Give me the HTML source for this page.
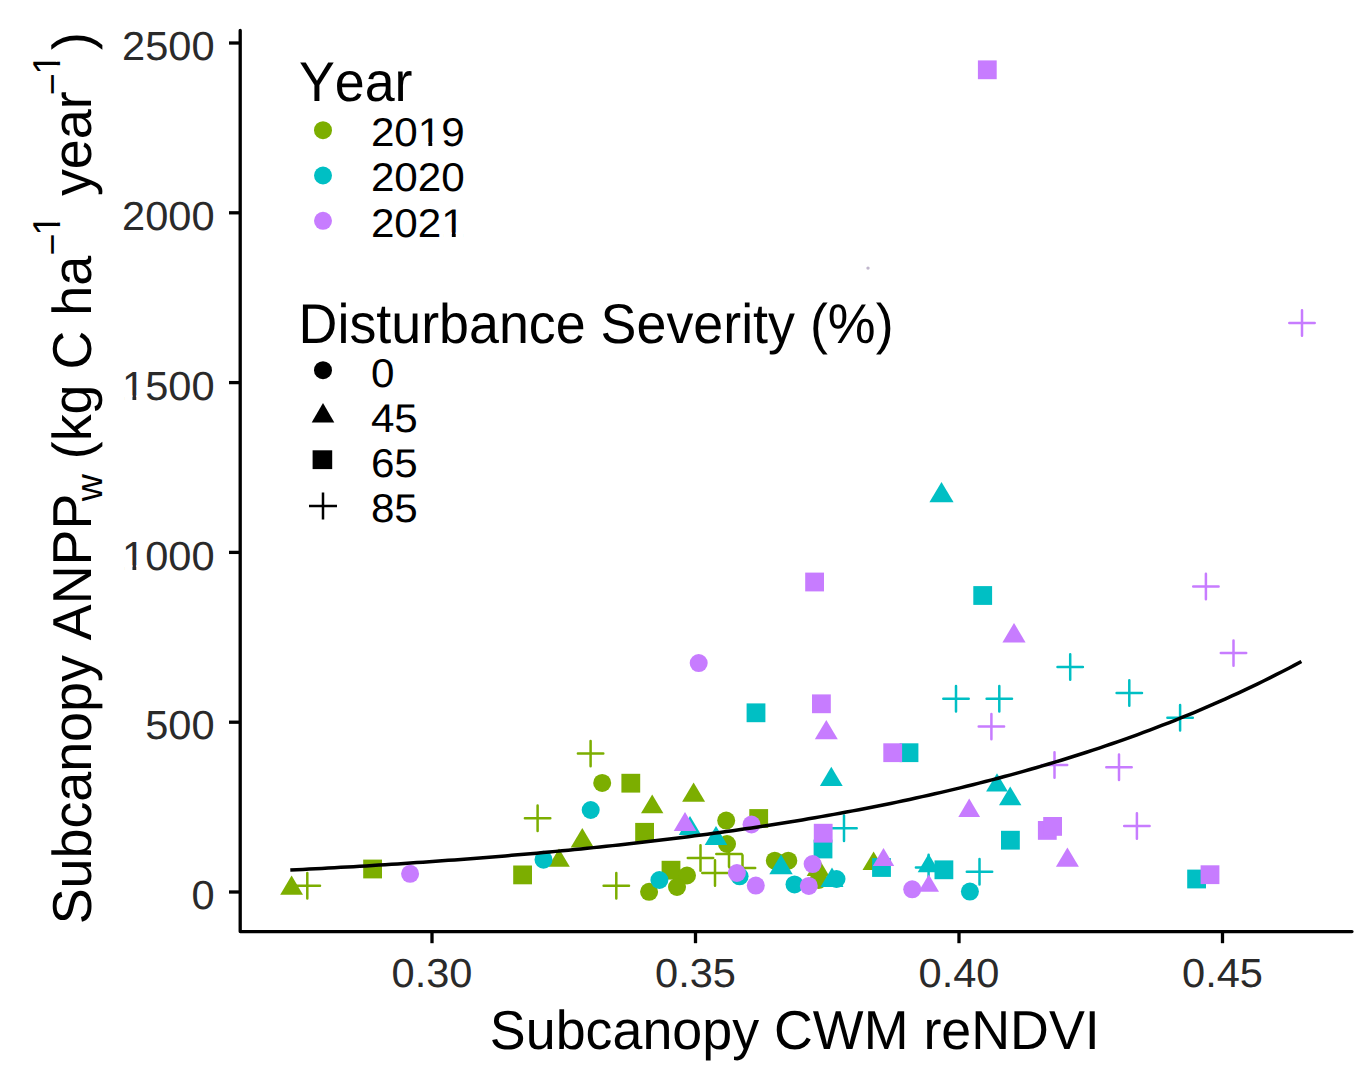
<!DOCTYPE html>
<html><head><meta charset="utf-8"><style>
html,body{margin:0;padding:0;background:#fff;}
svg{display:block;}
text{font-family:"Liberation Sans",sans-serif;font-kerning:none;font-feature-settings:"kern" 0;text-rendering:geometricPrecision;}
.tk{font-size:41.6px;fill:#2a2a2a;}
.lt{font-size:53.8px;fill:#000;}
.ll{font-size:42.2px;fill:#000;}
.at{font-size:53.8px;fill:#000;}
.sub{font-size:37.7px;fill:#000;}
</style></head><body>
<svg width="1360" height="1090" viewBox="0 0 1360 1090">
<rect width="1360" height="1090" fill="#fff"/>
<path d="M240.2 30.5V931.6H1352" fill="none" stroke="#000" stroke-width="3.3" stroke-linejoin="round" stroke-linecap="round"/><path d="M229 892H240" stroke="#000" stroke-width="3.3"/><text transform="translate(214.60,909.10) scale(1,0.975)" text-anchor="end" style="font-size:41.6px" fill="#2a2a2a">0</text><path d="M229 722.2H240" stroke="#000" stroke-width="3.3"/><text transform="translate(214.60,739.30) scale(1,0.975)" text-anchor="end" style="font-size:41.6px" fill="#2a2a2a">500</text><path d="M229 552.4H240" stroke="#000" stroke-width="3.3"/><text transform="translate(214.60,569.50) scale(1,0.975)" text-anchor="end" style="font-size:41.6px" fill="#2a2a2a">1000</text><g transform="translate(214.60,569.50) scale(1,0.975)" fill="#fff"><rect x="-90.31" y="-4.47" width="8.17" height="5.89"/><rect x="-78.35" y="-4.47" width="7.84" height="5.89"/></g><path d="M229 382.6H240" stroke="#000" stroke-width="3.3"/><text transform="translate(214.60,399.70) scale(1,0.975)" text-anchor="end" style="font-size:41.6px" fill="#2a2a2a">1500</text><g transform="translate(214.60,399.70) scale(1,0.975)" fill="#fff"><rect x="-90.31" y="-4.47" width="8.17" height="5.89"/><rect x="-78.35" y="-4.47" width="7.84" height="5.89"/></g><path d="M229 212.8H240" stroke="#000" stroke-width="3.3"/><text transform="translate(214.60,229.90) scale(1,0.975)" text-anchor="end" style="font-size:41.6px" fill="#2a2a2a">2000</text><path d="M229 43H240" stroke="#000" stroke-width="3.3"/><text transform="translate(214.60,60.10) scale(1,0.975)" text-anchor="end" style="font-size:41.6px" fill="#2a2a2a">2500</text><path d="M432 931.6V943.2" stroke="#000" stroke-width="3.3"/><text transform="translate(432.00,987.30) scale(1,0.975)" text-anchor="middle" style="font-size:41.6px" fill="#2a2a2a">0.30</text><path d="M695.5 931.6V943.2" stroke="#000" stroke-width="3.3"/><text transform="translate(695.50,987.30) scale(1,0.975)" text-anchor="middle" style="font-size:41.6px" fill="#2a2a2a">0.35</text><path d="M959 931.6V943.2" stroke="#000" stroke-width="3.3"/><text transform="translate(959.00,987.30) scale(1,0.975)" text-anchor="middle" style="font-size:41.6px" fill="#2a2a2a">0.40</text><path d="M1222.5 931.6V943.2" stroke="#000" stroke-width="3.3"/><text transform="translate(1222.50,987.30) scale(1,0.975)" text-anchor="middle" style="font-size:41.6px" fill="#2a2a2a">0.45</text>
<polygon points="291.6,875.6 303.0,894.7 280.2,894.7" fill="#7CAE00"/>
<path d="M294.6 885.7H320.0M307.3 873.0V898.4" stroke="#7CAE00" stroke-width="2.5" stroke-linecap="round" fill="none"/>
<rect x="363.2" y="859.6" width="18.8" height="18.8" fill="#7CAE00"/>
<rect x="513.2" y="865.5" width="18.8" height="18.8" fill="#7CAE00"/>
<polygon points="559.0,848.5 569.8,866.7 548.2,866.7" fill="#7CAE00"/>
<path d="M524.9 818.2H550.3M537.6 805.5V830.9" stroke="#7CAE00" stroke-width="2.5" stroke-linecap="round" fill="none"/>
<path d="M577.9 753.6H603.3M590.6 740.9V766.3" stroke="#7CAE00" stroke-width="2.5" stroke-linecap="round" fill="none"/>
<circle cx="602.2" cy="782.9" r="9.0" fill="#7CAE00"/>
<rect x="621.4" y="773.8" width="18.8" height="18.8" fill="#7CAE00"/>
<polygon points="652.2,794.4 663.4,813.2 641.0,813.2" fill="#7CAE00"/>
<polygon points="582.3,828.0 593.9,847.5 570.7,847.5" fill="#7CAE00"/>
<rect x="635.2" y="822.9" width="18.8" height="18.8" fill="#7CAE00"/>
<polygon points="693.6,782.4 705.1,801.7 682.1,801.7" fill="#7CAE00"/>
<path d="M603.6 885.7H629.0M616.3 873.0V898.4" stroke="#7CAE00" stroke-width="2.5" stroke-linecap="round" fill="none"/>
<circle cx="649.1" cy="891.8" r="9.0" fill="#7CAE00"/>
<rect x="661.6" y="860.8" width="18.8" height="18.8" fill="#7CAE00"/>
<circle cx="687.0" cy="875.5" r="9.0" fill="#7CAE00"/>
<circle cx="677.0" cy="887.0" r="9.0" fill="#7CAE00"/>
<circle cx="727.0" cy="844.0" r="9.0" fill="#7CAE00"/>
<circle cx="726.2" cy="820.6" r="9.0" fill="#7CAE00"/>
<path d="M687.8 858.0H713.2M700.5 845.3V870.7" stroke="#7CAE00" stroke-width="2.5" stroke-linecap="round" fill="none"/>
<path d="M702.3 873.0H727.7M715.0 860.3V885.7" stroke="#7CAE00" stroke-width="2.5" stroke-linecap="round" fill="none"/>
<path d="M716.3 854.0H741.7M729.0 841.3V866.7" stroke="#7CAE00" stroke-width="2.5" stroke-linecap="round" fill="none"/>
<path d="M729.8 868.0H755.2M742.5 855.3V880.7" stroke="#7CAE00" stroke-width="2.5" stroke-linecap="round" fill="none"/>
<rect x="749.3" y="809.1" width="18.8" height="18.8" fill="#7CAE00"/>
<circle cx="774.8" cy="860.7" r="9.0" fill="#7CAE00"/>
<circle cx="788.3" cy="860.7" r="9.0" fill="#7CAE00"/>
<polygon points="818.0,857.0 829.3,876.0 806.7,876.0" fill="#7CAE00"/>
<circle cx="818.7" cy="880.0" r="9.0" fill="#7CAE00"/>
<polygon points="873.6,851.4 884.7,870.1 862.5,870.1" fill="#7CAE00"/>
<circle cx="543.5" cy="859.7" r="9.0" fill="#00BFC4"/>
<circle cx="590.7" cy="810.0" r="9.0" fill="#00BFC4"/>
<circle cx="659.4" cy="880.0" r="9.0" fill="#00BFC4"/>
<polygon points="690.0,816.0 701.3,835.0 678.7,835.0" fill="#00BFC4"/>
<polygon points="716.0,826.0 727.3,845.0 704.7,845.0" fill="#00BFC4"/>
<circle cx="739.6" cy="876.3" r="9.0" fill="#00BFC4"/>
<rect x="746.6" y="703.4" width="18.8" height="18.8" fill="#00BFC4"/>
<polygon points="781.0,854.6 792.7,874.3 769.3,874.3" fill="#00BFC4"/>
<circle cx="794.5" cy="884.4" r="9.0" fill="#00BFC4"/>
<rect x="813.6" y="839.6" width="18.8" height="18.8" fill="#00BFC4"/>
<polygon points="831.3,766.8 842.7,786.0 819.9,786.0" fill="#00BFC4"/>
<polygon points="832.0,867.6 843.5,887.0 820.5,887.0" fill="#00BFC4"/>
<circle cx="836.5" cy="879.0" r="9.0" fill="#00BFC4"/>
<path d="M831.3 828.2H856.7M844.0 815.5V840.9" stroke="#00BFC4" stroke-width="2.5" stroke-linecap="round" fill="none"/>
<rect x="872.1" y="858.1" width="18.8" height="18.8" fill="#00BFC4"/>
<rect x="899.6" y="743.3" width="18.8" height="18.8" fill="#00BFC4"/>
<path d="M915.9 867.5H941.3M928.6 854.8V880.2" stroke="#00BFC4" stroke-width="2.5" stroke-linecap="round" fill="none"/>
<polygon points="928.6,853.8 939.5,872.2 917.7,872.2" fill="#00BFC4"/>
<rect x="934.5" y="860.4" width="18.8" height="18.8" fill="#00BFC4"/>
<polygon points="941.5,482.0 953.6,502.3 929.4,502.3" fill="#00BFC4"/>
<path d="M943.3 698.7H968.7M956.0 686.0V711.4" stroke="#00BFC4" stroke-width="2.5" stroke-linecap="round" fill="none"/>
<path d="M986.6 698.7H1012.0M999.3 686.0V711.4" stroke="#00BFC4" stroke-width="2.5" stroke-linecap="round" fill="none"/>
<circle cx="969.9" cy="891.6" r="9.0" fill="#00BFC4"/>
<path d="M966.8 871.8H992.2M979.5 859.1V884.5" stroke="#00BFC4" stroke-width="2.5" stroke-linecap="round" fill="none"/>
<rect x="973.3" y="586.1" width="18.8" height="18.8" fill="#00BFC4"/>
<polygon points="997.0,773.2 1007.9,791.6 986.1,791.6" fill="#00BFC4"/>
<polygon points="1010.2,786.4 1021.4,805.3 999.0,805.3" fill="#00BFC4"/>
<rect x="1001.0" y="830.8" width="18.8" height="18.8" fill="#00BFC4"/>
<path d="M1057.5 667.0H1082.9M1070.2 654.3V679.7" stroke="#00BFC4" stroke-width="2.5" stroke-linecap="round" fill="none"/>
<path d="M1116.6 693.0H1142.0M1129.3 680.3V705.7" stroke="#00BFC4" stroke-width="2.5" stroke-linecap="round" fill="none"/>
<path d="M1167.4 717.7H1192.8M1180.1 705.0V730.4" stroke="#00BFC4" stroke-width="2.5" stroke-linecap="round" fill="none"/>
<rect x="1187.2" y="869.6" width="18.8" height="18.8" fill="#00BFC4"/>
<circle cx="410.1" cy="873.8" r="9.0" fill="#C77CFF"/>
<circle cx="698.7" cy="663.1" r="9.0" fill="#C77CFF"/>
<polygon points="685.0,812.0 696.3,831.0 673.7,831.0" fill="#C77CFF"/>
<circle cx="751.5" cy="824.5" r="9.0" fill="#C77CFF"/>
<circle cx="736.9" cy="873.0" r="9.0" fill="#C77CFF"/>
<circle cx="755.8" cy="885.6" r="9.0" fill="#C77CFF"/>
<circle cx="812.6" cy="864.1" r="9.0" fill="#C77CFF"/>
<circle cx="808.8" cy="885.9" r="9.0" fill="#C77CFF"/>
<rect x="805.2" y="572.6" width="18.8" height="18.8" fill="#C77CFF"/>
<rect x="812.0" y="694.4" width="18.8" height="18.8" fill="#C77CFF"/>
<polygon points="826.3,720.0 837.8,739.3 814.8,739.3" fill="#C77CFF"/>
<rect x="813.8" y="823.8" width="18.8" height="18.8" fill="#C77CFF"/>
<polygon points="883.5,848.1 894.2,866.1 872.8,866.1" fill="#C77CFF"/>
<rect x="883.3" y="743.3" width="18.8" height="18.8" fill="#C77CFF"/>
<circle cx="912.2" cy="889.3" r="9.0" fill="#C77CFF"/>
<polygon points="928.8,874.6 939.0,891.8 918.5,891.8" fill="#C77CFF"/>
<polygon points="969.2,798.5 980.1,816.9 958.3,816.9" fill="#C77CFF"/>
<rect x="977.9" y="60.4" width="18.8" height="18.8" fill="#C77CFF"/>
<path d="M978.7 726.6H1004.1M991.4 713.9V739.3" stroke="#C77CFF" stroke-width="2.5" stroke-linecap="round" fill="none"/>
<polygon points="1014.0,622.9 1025.6,642.4 1002.4,642.4" fill="#C77CFF"/>
<rect x="1037.9" y="821.0" width="18.8" height="18.8" fill="#C77CFF"/>
<rect x="1043.2" y="817.0" width="18.8" height="18.8" fill="#C77CFF"/>
<path d="M1041.8 765.0H1067.2M1054.5 752.3V777.7" stroke="#C77CFF" stroke-width="2.5" stroke-linecap="round" fill="none"/>
<polygon points="1067.4,847.5 1078.9,866.8 1055.9,866.8" fill="#C77CFF"/>
<path d="M1106.3 767.3H1131.7M1119.0 754.6V780.0" stroke="#C77CFF" stroke-width="2.5" stroke-linecap="round" fill="none"/>
<path d="M1124.2 826.0H1149.6M1136.9 813.3V838.7" stroke="#C77CFF" stroke-width="2.5" stroke-linecap="round" fill="none"/>
<path d="M1193.2 586.5H1218.6M1205.9 573.8V599.2" stroke="#C77CFF" stroke-width="2.5" stroke-linecap="round" fill="none"/>
<path d="M1220.8 653.1H1246.2M1233.5 640.4V665.8" stroke="#C77CFF" stroke-width="2.5" stroke-linecap="round" fill="none"/>
<rect x="1200.6" y="865.3" width="18.8" height="18.8" fill="#C77CFF"/>
<path d="M1289.3 323.0H1314.7M1302.0 310.3V335.7" stroke="#C77CFF" stroke-width="2.5" stroke-linecap="round" fill="none"/>
<polyline points="290.3,870.10 296.6,869.78 302.9,869.45 309.3,869.12 315.6,868.78 321.9,868.43 328.2,868.08 334.5,867.73 340.9,867.37 347.2,867.00 353.5,866.63 359.8,866.26 366.1,865.88 372.5,865.49 378.8,865.10 385.1,864.70 391.4,864.29 397.7,863.88 404.0,863.47 410.4,863.04 416.7,862.61 423.0,862.18 429.3,861.74 435.6,861.29 442.0,860.83 448.3,860.37 454.6,859.90 460.9,859.43 467.2,858.94 473.6,858.45 479.9,857.96 486.2,857.45 492.5,856.94 498.8,856.42 505.2,855.89 511.5,855.36 517.8,854.81 524.1,854.26 530.4,853.70 536.8,853.14 543.1,852.56 549.4,851.98 555.7,851.38 562.0,850.78 568.4,850.17 574.7,849.55 581.0,848.92 587.3,848.28 593.6,847.63 599.9,846.98 606.3,846.31 612.6,845.63 618.9,844.94 625.2,844.25 631.5,843.54 637.9,842.82 644.2,842.09 650.5,841.35 656.8,840.60 663.1,839.84 669.5,839.07 675.8,838.28 682.1,837.49 688.4,836.68 694.7,835.86 701.1,835.03 707.4,834.18 713.7,833.33 720.0,832.46 726.3,831.57 732.7,830.68 739.0,829.77 745.3,828.85 751.6,827.91 757.9,826.96 764.3,826.00 770.6,825.02 776.9,824.03 783.2,823.02 789.5,822.00 795.9,820.96 802.2,819.91 808.5,818.84 814.8,817.75 821.1,816.65 827.4,815.54 833.8,814.40 840.1,813.25 846.4,812.09 852.7,810.90 859.0,809.70 865.4,808.48 871.7,807.24 878.0,805.99 884.3,804.71 890.6,803.42 897.0,802.10 903.3,800.77 909.6,799.42 915.9,798.05 922.2,796.65 928.6,795.24 934.9,793.81 941.2,792.35 947.5,790.88 953.8,789.38 960.2,787.86 966.5,786.31 972.8,784.75 979.1,783.16 985.4,781.54 991.8,779.91 998.1,778.24 1004.4,776.56 1010.7,774.85 1017.0,773.11 1023.3,771.35 1029.7,769.56 1036.0,767.75 1042.3,765.91 1048.6,764.04 1054.9,762.14 1061.3,760.22 1067.6,758.26 1073.9,756.28 1080.2,754.27 1086.5,752.23 1092.9,750.16 1099.2,748.05 1105.5,745.92 1111.8,743.76 1118.1,741.56 1124.5,739.33 1130.8,737.07 1137.1,734.77 1143.4,732.44 1149.7,730.07 1156.1,727.67 1162.4,725.24 1168.7,722.77 1175.0,720.26 1181.3,717.71 1187.7,715.13 1194.0,712.51 1200.3,709.85 1206.6,707.15 1212.9,704.41 1219.2,701.63 1225.6,698.81 1231.9,695.95 1238.2,693.04 1244.5,690.09 1250.8,687.10 1257.2,684.06 1263.5,680.98 1269.8,677.85 1276.1,674.68 1282.4,671.46 1288.8,668.19 1295.1,664.87 1301.4,661.51" fill="none" stroke="#000" stroke-width="3.5" stroke-linejoin="round" stroke-linecap="butt"/>
<circle cx="868" cy="268.1" r="1.7" fill="#c0b6cc"/>
<text transform="translate(298.90,101.40) scale(1.0,1.04)" text-anchor="start" style="font-size:53.8px" fill="#000">Year</text><circle cx="323" cy="130.2" r="9.0" fill="#7CAE00"/><text transform="translate(370.90,146.10) scale(1.0,0.95)" text-anchor="start" style="font-size:42.2px" fill="#000">2019</text><g transform="translate(370.90,146.10) scale(1.0,0.95)" fill="#fff"><rect x="49.21" y="-4.53" width="8.28" height="5.98"/><rect x="61.34" y="-4.53" width="7.95" height="5.98"/></g><circle cx="323" cy="175.5" r="9.0" fill="#00BFC4"/><text transform="translate(370.90,191.40) scale(1.0,0.95)" text-anchor="start" style="font-size:42.2px" fill="#000">2020</text><circle cx="323" cy="220.8" r="9.0" fill="#C77CFF"/><text transform="translate(370.90,236.70) scale(1.0,0.95)" text-anchor="start" style="font-size:42.2px" fill="#000">2021</text><g transform="translate(370.90,236.70) scale(1.0,0.95)" fill="#fff"><rect x="72.68" y="-4.53" width="8.28" height="5.98"/><rect x="84.81" y="-4.53" width="7.95" height="5.98"/></g><text transform="translate(298.60,343.20) scale(1.0,1.04)" text-anchor="start" style="font-size:53.8px" fill="#000">Disturbance Severity (%)</text><circle cx="323" cy="370.2" r="9.0" fill="#000"/><polygon points="323,402.9 334.3,422.5 311.7,422.5" fill="#000"/><rect x="312.6" y="450.3" width="19.6" height="18.8" fill="#000"/><path d="M309 506.0H337M323 492.5V519.5" stroke="#000" stroke-width="2.5" fill="none"/><text transform="translate(370.90,386.80) scale(1.0,0.95)" text-anchor="start" style="font-size:42.2px" fill="#000">0</text><text transform="translate(370.90,432.00) scale(1.0,0.95)" text-anchor="start" style="font-size:42.2px" fill="#000">45</text><text transform="translate(370.90,477.00) scale(1.0,0.95)" text-anchor="start" style="font-size:42.2px" fill="#000">65</text><text transform="translate(370.90,521.80) scale(1.0,0.95)" text-anchor="start" style="font-size:42.2px" fill="#000">85</text>
<g transform="translate(90.5,922) rotate(-90)"><text transform="translate(-2.34,0.00) scale(1.0,1.02)" text-anchor="start" style="font-size:53.8px" fill="#000">Subcanopy ANPP</text><text transform="translate(420.75,11.60) scale(1.0,1.0)" text-anchor="start" style="font-size:37.7px" fill="#000">w</text><text transform="translate(462.80,0.00) scale(1.0,1.02)" text-anchor="start" style="font-size:53.8px" fill="#000">(kg C ha</text><text transform="translate(666.50,-25.50) scale(1.0,1.0)" text-anchor="start" style="font-size:37.7px" fill="#000">−</text><text transform="translate(686.50,-30.30) scale(1.0,1.03)" text-anchor="start" style="font-size:37.7px" fill="#000">1</text><g transform="translate(686.50,-30.30) scale(1.0,1.03)" fill="#fff"><rect x="2.02" y="-4.05" width="7.40" height="5.34"/><rect x="12.87" y="-4.05" width="7.11" height="5.34"/></g><text transform="translate(725.90,0.00) scale(1.0,1.02)" text-anchor="start" style="font-size:53.8px" fill="#000">year</text><text transform="translate(826.70,-25.50) scale(1.0,1.0)" text-anchor="start" style="font-size:37.7px" fill="#000">−</text><text transform="translate(847.40,-30.30) scale(1.0,1.03)" text-anchor="start" style="font-size:37.7px" fill="#000">1</text><g transform="translate(847.40,-30.30) scale(1.0,1.03)" fill="#fff"><rect x="2.02" y="-4.05" width="7.40" height="5.34"/><rect x="12.87" y="-4.05" width="7.11" height="5.34"/></g><text transform="translate(872.00,0.00) scale(1.0,1.02)" text-anchor="start" style="font-size:53.8px" fill="#000">)</text></g>
<text transform="translate(794.80,1048.90) scale(1,1.02)" text-anchor="middle" style="font-size:53.8px" fill="#000">Subcanopy CWM reNDVI</text>
</svg>
</body></html>
